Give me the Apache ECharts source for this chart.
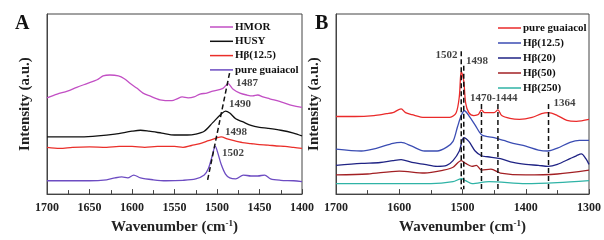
<!DOCTYPE html>
<html><head><meta charset="utf-8">
<script src="https://cdn.jsdelivr.net/npm/echarts@6/dist/echarts.min.js"></script>
<style>html,body{margin:0;padding:0;background:#fff}#c{width:604px;height:240px}</style>
</head><body><div id="c"></div>
<script>
// ---------- Panel A data: [wavenumber, intensity (a.u.)] ----------
var aHMOR = [[1700,102],[1688,106],[1676,109],[1665,113],[1653,117],[1641,121],[1634,125],[1626,126],[1616,125],[1609,122],[1602,117],[1594,112],[1587,107],[1579,104],[1567,100],[1553,99],[1547,101],[1541,103],[1534,102],[1527,103],[1520,106],[1512,107],[1505,109],[1493,112],[1487,117],[1481,111],[1473,107],[1465,105],[1458,104],[1452,105],[1446,103],[1438,101],[1422,97],[1412,94],[1400,92]];
var aHUSY = [[1700,61],[1680,61],[1660,61],[1640,62],[1620,64],[1600,67],[1590,68],[1580,67],[1565,65],[1550,63],[1535,63],[1525,64],[1515,67],[1505,76],[1495,85],[1490,88],[1485,86],[1478,80],[1470,77],[1460,73],[1450,71],[1440,70],[1425,68],[1410,65],[1400,62]];
var aHB125 = [[1700,50],[1685,49],[1670,50],[1650,50.5],[1630,50],[1615,51],[1600,51],[1585,50],[1570,51],[1550,51],[1540,50],[1530,52],[1520,54],[1510,57],[1500,60],[1495,61],[1488,59],[1480,57],[1470,55],[1460,54],[1450,53],[1440,52.5],[1430,51.5],[1420,51],[1410,50],[1400,49]];
var aGuaiacol = [[1700,15],[1670,15],[1650,15],[1630,16],[1620,18],[1612,19],[1605,18],[1598,21],[1590,18],[1575,16],[1560,15],[1540,15.5],[1525,17],[1515,21],[1510,28],[1506,40],[1502,51],[1499,44],[1495,32],[1490,22],[1485,18],[1478,17],[1469,21],[1460,20],[1452,20],[1444,21],[1437,17],[1425,15.5],[1410,15],[1400,14]];
var aNames = ['HMOR','HUSY','H\u03b2(12.5)','pure guaiacol'];
var aGuide = [[1511,16],[1485,129]];
var aLabels = [['1487',1477.6,117],['1490',1485.9,95],['1498',1490.6,66],['1502',1494,44]];

// ---------- Panel B data ----------
var bGuaiacol = [[1700,81],[1670,81],[1640,82],[1620,84],[1610,85],[1597,89],[1590,85],[1580,83],[1560,80],[1540,80],[1520,80],[1510,85],[1505,102],[1502,128],[1498,118],[1495,95],[1490,85],[1482,82],[1475,83],[1470,88],[1465,85],[1455,85],[1450,85],[1444,88],[1438,82],[1425,79],[1410,78],[1390,80],[1375,84],[1364,85],[1350,82],[1335,77],[1320,76],[1300,78]];
var bHB125 = [[1700,47],[1660,45],[1635,48],[1610,53],[1597,54],[1580,50],[1560,45],[1540,45],[1525,49],[1515,55],[1508,70],[1502,82],[1497,87],[1490,82],[1480,72],[1470,62],[1460,60],[1450,59],[1435,56],[1420,53],[1400,50],[1380,46],[1365,45],[1350,48],[1330,54],[1315,56],[1300,56]];
var bHB20 = [[1700,30],[1660,32],[1630,33],[1610,35],[1597,36],[1580,33],[1560,31],[1540,29],[1525,30],[1515,35],[1505,45],[1498,59],[1490,55],[1480,45],[1470,40],[1460,39],[1440,37],[1420,33],[1400,31],[1380,30],[1365,29],[1350,31],[1330,37],[1320,40],[1312,42],[1305,37],[1300,31]];
var bHB50 = [[1700,20],[1650,21],[1600,24],[1560,22],[1530,25],[1515,28],[1502,35],[1495,32],[1485,29],[1478,30],[1470,25],[1455,26],[1440,22],[1400,20],[1350,21],[1300,25]];
var bHB250 = [[1700,11],[1550,11],[1515,13],[1502,16],[1495,14],[1485,11],[1458,13],[1400,11],[1350,12],[1300,14]];
var bNames = ['pure guaiacol ','H\u03b2(12.5) ','H\u03b2(20)','H\u03b2(50)','H\u03b2(250)'];
var bGuides = [[[1502,149],[1502,5]],[[1498,134],[1498,5]],[[1470,94],[1470,5]],[[1444,94],[1444,5]],[[1364,94],[1364,5]]];
var bLabels = [['1502',1542.8,145],['1498',1494.6,139],['1470-1444',1488.3,100],['1364',1356,95]];

var xTicksA = {min:1400, max:1700, interval:50};
var xTicksB = {min:1300, max:1700, interval:100};

var FONT = 'Liberation Serif';
var aColors = ['#c24fc4','#111111','#ea2f2a','#6d4cc2'];
var bColors = ['#ea2a2a','#3b4db3','#1f2384','#a22024','#2fb3a6'];

function lineS(name, data, color, xi){
  return {type:'line', name:name, data:data, xAxisIndex:xi, yAxisIndex:xi, smooth:0.3,
    showSymbol:false, symbol:'none', color:color, lineStyle:{color:color, width:1.3}, silent:true, animation:false};
}
function guideS(data, xi){
  return {type:'line', data:data, xAxisIndex:xi, yAxisIndex:xi, showSymbol:false, symbol:'none',
    lineStyle:{color:'#111', width:1.5, type:[5,3]}, silent:true, animation:false};
}
function labelS(arr, xi){
  return {type:'scatter', xAxisIndex:xi, yAxisIndex:xi, symbolSize:0, silent:true, animation:false,
    data: arr.map(function(l){return {name:l[0], value:[l[1], l[2]]};}),
    label:{show:true, position:'right', distance:0, formatter:'{b}', color:'#111',
      fontFamily:FONT, fontWeight:'bold', fontSize:11}};
}
function xAx(t, gi){
  return {type:'value', gridIndex:gi, inverse:true, min:t.min, max:t.max, interval:t.interval,
    axisLine:{show:true, lineStyle:{color:'#444', width:1}},
    axisTick:{show:true, inside:true, length:5, lineStyle:{color:'#444'}},
    minorTick:{show:true, splitNumber:2, length:4, lineStyle:{color:'#444'}},
    splitLine:{show:false}, minorSplitLine:{show:false},
    axisLabel:{margin:8, color:'#222', fontFamily:FONT, fontWeight:'bold', fontSize:12,
      formatter:function(v){return String(v);}},
    name:'Wavenumber (cm{sup|-1})', nameLocation:'middle', nameGap:23,
    nameTextStyle:{color:'#222', fontFamily:FONT, fontWeight:'bold', fontSize:15,
      rich:{sup:{fontFamily:FONT, fontWeight:'bold', fontSize:9, padding:[0,0,8,0], color:'#222'}}}};
}
function yAx(gi, max, min){
  return {type:'value', gridIndex:gi, min:min, max:max,
    axisLine:{show:true, lineStyle:{color:'#444'}}, axisTick:{show:false}, axisLabel:{show:false},
    splitLine:{show:false}, name:'Intensity (a.u.)', nameLocation:'middle', nameGap:14,
    nameTextStyle:{color:'#222', fontFamily:FONT, fontWeight:'bold', fontSize:15}};
}

var series = [];
[aHMOR,aHUSY,aHB125,aGuaiacol].forEach(function(d,i){ series.push(lineS(aNames[i], d, aColors[i], 0)); });
series.push(guideS(aGuide, 0));
series.push(labelS(aLabels, 0));
[bGuaiacol,bHB125,bHB20,bHB50,bHB250].forEach(function(d,i){ series.push(lineS(bNames[i], d, bColors[i], 1)); });
bGuides.forEach(function(g){ series.push(guideS(g, 1)); });
series.push(labelS(bLabels, 1));

var legendBase = {orient:'vertical', icon:'rect', itemWidth:23, itemHeight:1.5,
  textStyle:{fontFamily:FONT, fontWeight:'bold', fontSize:11, color:'#111', lineHeight:14, padding:[0,0,0,-3]}, selectedMode:false};

var chart = echarts.init(document.getElementById('c'), null, {renderer:'canvas'});
chart.setOption({
  animation:false,
  backgroundColor:'#fff',
  title:[
    {text:'A', left:10, top:9, textStyle:{fontFamily:FONT, fontWeight:'bold', fontSize:20, color:'#111'}},
    {text:'B', left:310, top:9, textStyle:{fontFamily:FONT, fontWeight:'bold', fontSize:20, color:'#111'}}
  ],
  legend:[
    Object.assign({}, legendBase, {data:aNames, left:205, top:15, itemGap:0.3}),
    Object.assign({}, legendBase, {data:bNames, left:493, top:16, itemGap:1})
  ],
  grid:[
    {left:47, top:14, width:255, height:189, show:true, borderColor:'#444', borderWidth:1, backgroundColor:'transparent'},
    {left:336, top:14, width:257, height:188, show:true, borderColor:'#444', borderWidth:1, backgroundColor:'transparent'}
  ],
  xAxis:[xAx(xTicksA,0), xAx(xTicksB,1)],
  yAxis:[yAx(0,190,1), yAx(1,188,0)],
  series:series
});
</script></body></html>
